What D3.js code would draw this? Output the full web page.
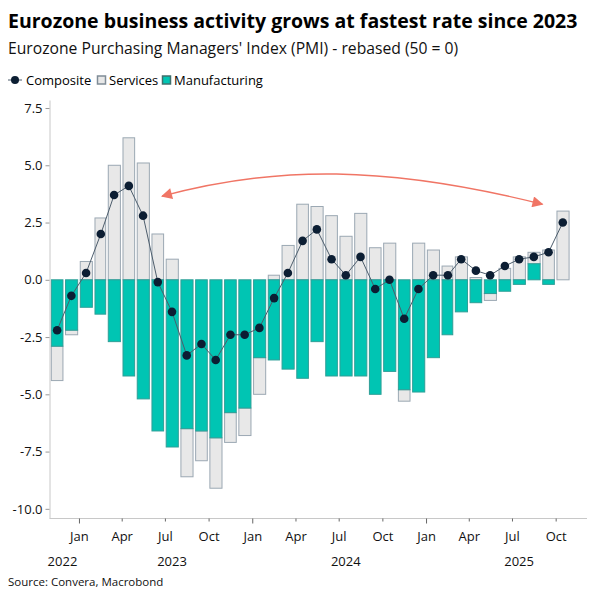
<!DOCTYPE html>
<html>
<head>
<meta charset="utf-8">
<script src="https://cdn.jsdelivr.net/npm/d3@7"></script>
<style>
  html, body { margin: 0; padding: 0; background: #fff; }
  svg { display: block; }
</style>
</head>
<body>
<div id="chart"></div>
<script>
// Eurozone PMI, rebased (50 = 0), Nov 2022 .. Oct 2025
const months = d3.timeMonths(new Date(2022, 10, 1), new Date(2025, 10, 1));
const manufacturing = [
    -2.9, -2.2, -1.2, -1.5, -2.7, -4.2, -5.2, -6.6, -7.3, -6.5, -6.6, -6.9,
    -5.8, -5.6, -3.4, -3.5, -3.9, -4.3, -2.7, -4.2, -4.2, -4.2, -5.0, -4.0,
    -4.8, -4.9, -3.4, -2.4, -1.4, -1.0, -0.6, -0.5, -0.2, 0.7, -0.2, 0.0
];
const services = [
    -1.5, -0.2, 0.8, 2.7, 5.0, 6.2, 5.1, 2.0, 0.9, -2.1, -1.3, -2.2,
    -1.3, -1.2, -1.6, 0.2, 1.5, 3.3, 3.2, 2.8, 1.9, 2.9, 1.4, 1.6,
    -0.5, 1.6, 1.3, 0.6, 1.0, 0.1, -0.3, 0.5, 1.0, 0.5, 1.3, 3.0
];
const composite = [
    -2.2, -0.7, 0.3, 2.0, 3.7, 4.1, 2.8, -0.1, -1.4, -3.3, -2.8, -3.5,
    -2.4, -2.4, -2.1, -0.8, 0.3, 1.7, 2.2, 0.9, 0.2, 1.0, -0.4, 0.0,
    -1.7, -0.4, 0.2, 0.2, 0.9, 0.4, 0.2, 0.6, 0.9, 1.0, 1.2, 2.5
];
const yTicks = [-10, -7.5, -5, -2.5, 0, 2.5, 5, 7.5];
const years = [2022, 2023, 2024, 2025];
// annotation arrow: [date, value] for start, two controls, end
const arrowPts = [
    [new Date(2023, 5, 25), 3.65],
    [new Date(2024, 1, 20), 5.0],
    [new Date(2024, 9, 10), 5.0],
    [new Date(2025, 8, 3), 3.3]
];

const W = 600, H = 600;
const FONT = "'Open Sans', 'Noto Sans', sans-serif";
const TEAL = "#00c5b3", TEAL_STROKE = "#2f9f97";
const GREY = "#e8e8e8", GREY_STROKE = "#9ba8b3";
const NAVY = "#0c1e33";
const AXIS = "#c8c8c8";

const svg = d3.select("#chart").append("svg")
    .attr("width", W).attr("height", H)
    .attr("font-family", FONT);

svg.append("rect").attr("width", W).attr("height", H).attr("fill", "#fff");

// titles
svg.append("text")
    .attr("x", 8).attr("y", 28)
    .attr("font-size", "19.5px").attr("font-weight", 700).attr("fill", "#000")
    .text("Eurozone business activity grows at fastest rate since 2023");
svg.append("text")
    .attr("x", 8).attr("y", 54)
    .attr("font-size", "15.7px").attr("fill", "#111")
    .text("Eurozone Purchasing Managers' Index (PMI) - rebased (50 = 0)");

// legend
const lg = svg.append("g").attr("transform", "translate(0,80)").attr("font-size", "13px");
lg.append("line").attr("x1", 8).attr("x2", 22).attr("y1", 0).attr("y2", 0)
    .attr("stroke", "#4d5d6c").attr("stroke-width", 1);
lg.append("circle").attr("cx", 15).attr("cy", 0).attr("r", 4).attr("fill", NAVY);
lg.append("text").attr("x", 26).attr("y", 4.5).text("Composite");
lg.append("rect").attr("x", 97.5).attr("y", -4).attr("width", 8).attr("height", 8)
    .attr("fill", GREY).attr("stroke", "#7f8c97").attr("stroke-width", 1.5);
lg.append("text").attr("x", 109).attr("y", 4.5).text("Services");
lg.append("rect").attr("x", 162.5).attr("y", -4).attr("width", 8).attr("height", 8)
    .attr("fill", TEAL).attr("stroke", "#3f6f6c").attr("stroke-width", 1.5);
lg.append("text").attr("x", 174).attr("y", 4.5).text("Manufacturing");

// scales
const x = d3.scaleTime()
    .domain([new Date(2022, 10, 1), new Date(2025, 11, 6)])
    .range([50, 587]);
const y = d3.scaleLinear().domain([-10.4, 7.85]).range([518, 100]);

// stacked bars (diverging)
const rows = months.map((d, i) => ({ date: d, manufacturing: manufacturing[i], services: services[i] }));
const series = d3.stack()
    .keys(["manufacturing", "services"])
    .offset(d3.stackOffsetDiverging)(rows);

const barX = d => x(d.data.date) + 1.3;
const barW = d => x(d3.timeMonth.offset(d.data.date, 1)) - x(d.data.date) - 2.6;

const fills = { manufacturing: [TEAL, TEAL_STROKE], services: [GREY, GREY_STROKE] };
// services drawn first so teal sits on top
[series[1], series[0]].forEach(s => {
    svg.append("g").selectAll("rect")
        .data(s.filter(d => d[1] !== d[0]))
        .join("rect")
        .attr("x", barX)
        .attr("width", barW)
        .attr("y", d => y(Math.max(d[0], d[1])))
        .attr("height", d => Math.abs(y(d[0]) - y(d[1])))
        .attr("fill", fills[s.key][0])
        .attr("stroke", fills[s.key][1])
        .attr("stroke-width", 1);
});

// axes
const yAxis = svg.append("g")
    .attr("transform", "translate(49.5,0)")
    .call(d3.axisLeft(y).tickValues(yTicks).tickFormat(d3.format(".1f")).tickSize(4).tickSizeOuter(0));
yAxis.select(".domain").attr("stroke", AXIS);
yAxis.selectAll(".tick line").attr("stroke", "#999");
yAxis.selectAll(".tick text").attr("font-size", "13px").attr("font-family", FONT)
    .attr("fill", "#111").attr("x", -7).text(d => d < 0 ? "-" + d3.format(".1f")(-d) : d3.format(".1f")(d));

svg.append("line")
    .attr("x1", 49.5).attr("x2", 587).attr("y1", 518.5).attr("y2", 518.5)
    .attr("stroke", AXIS);

const quarterTicks = d3.timeMonths(new Date(2023, 0, 1), new Date(2025, 10, 1), 3);
const xAxis = svg.append("g")
    .attr("transform", "translate(0,518.5)")
    .call(d3.axisBottom(x).tickValues(quarterTicks).tickFormat(d3.timeFormat("%b")).tickSize(3).tickPadding(10));
xAxis.select(".domain").remove();
xAxis.selectAll(".tick line").attr("stroke", "#666")
    .attr("y2", d => d.getMonth() === 0 ? 5 : 3);
xAxis.selectAll(".tick text").attr("font-size", "13px").attr("font-family", FONT).attr("fill", "#111");

// year labels
svg.append("g").selectAll("text")
    .data(years)
    .join("text")
    .attr("x", d => d === 2022
        ? (x(new Date(2022, 10, 1)) + x(new Date(2023, 0, 1))) / 2 - 2
        : x(new Date(d, 6, 16)))
    .attr("y", 566)
    .attr("text-anchor", "middle")
    .attr("font-size", "13px").attr("fill", "#111")
    .text(d => d);

// composite line
const mid = d => x(d3.timeDay.offset(d, 15));
const line = d3.line()
    .x((d, i) => mid(months[i]))
    .y(d => y(d));
svg.append("path")
    .datum(composite)
    .attr("d", line)
    .attr("fill", "none")
    .attr("stroke", "#4d5d6c")
    .attr("stroke-width", 1);
svg.append("g").selectAll("circle")
    .data(composite)
    .join("circle")
    .attr("cx", (d, i) => mid(months[i]))
    .attr("cy", d => y(d))
    .attr("r", 4.3)
    .attr("fill", NAVY);

// annotation arrow
const ARROW = "#f07565";
const defs = svg.append("defs");
defs.append("marker")
    .attr("id", "ah")
    .attr("viewBox", "0 0 10 10")
    .attr("refX", 9).attr("refY", 5)
    .attr("markerUnits", "userSpaceOnUse")
    .attr("markerWidth", 12).attr("markerHeight", 11)
    .attr("orient", "auto-start-reverse")
    .append("path").attr("d", "M0,0 L10,5 L0,10 Z").attr("fill", ARROW);

const p = arrowPts.map(d => [x(d[0]), y(d[1])]);
const ap = d3.path();
ap.moveTo(p[0][0], p[0][1]);
ap.bezierCurveTo(p[1][0], p[1][1], p[2][0], p[2][1], p[3][0], p[3][1]);
svg.append("path")
    .attr("d", ap.toString())
    .attr("fill", "none")
    .attr("stroke", ARROW)
    .attr("stroke-width", 1.4)
    .attr("marker-start", "url(#ah)")
    .attr("marker-end", "url(#ah)");

// source
svg.append("text")
    .attr("x", 8).attr("y", 586)
    .attr("font-size", "11.5px").attr("fill", "#111")
    .text("Source: Convera, Macrobond");
</script>
</body>
</html>
